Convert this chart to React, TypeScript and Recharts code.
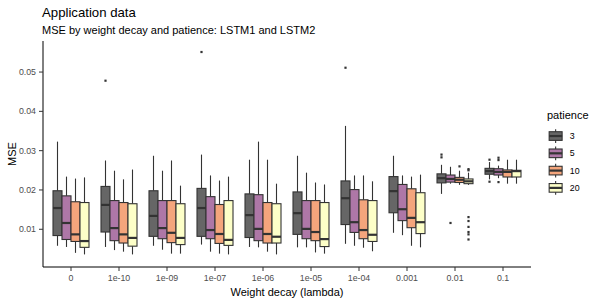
import React from "react";
import { BarChart, Bar, XAxis, YAxis } from "recharts";

const decay = ["0", "1e-10", "1e-09", "1e-07", "1e-06", "1e-05", "1e-04", "0.001", "0.01", "0.1"];
const patience = ["3", "5", "10", "20"];
const yTicks = [0.01, 0.02, 0.03, 0.04, 0.05];

// each box: [lower whisker, q1, median, q3, upper whisker]
const p3Boxes = [
  [0.0058, 0.0084, 0.0154, 0.0198, 0.0323],
  [0.0055, 0.0093, 0.0162, 0.0209, 0.0275],
  [0.0058, 0.0082, 0.0134, 0.0198, 0.0287],
  [0.0061, 0.0082, 0.0154, 0.0204, 0.029],
  [0.0055, 0.0079, 0.0136, 0.019, 0.0277],
  [0.0054, 0.0087, 0.0141, 0.0195, 0.0287],
  [0.0063, 0.0112, 0.0179, 0.0223, 0.0363],
  [0.0091, 0.0142, 0.0197, 0.0234, 0.0287],
  [0.019, 0.0218, 0.023, 0.0241, 0.0264],
  [0.0227, 0.024, 0.0248, 0.0255, 0.0271],
];
const p3Outliers = [[], [0.0478], [], [0.0551], [], [], [0.0511], [], [0.029, 0.0283], [0.0277, 0.0221]];

const p5Boxes = [
  [0.0055, 0.0074, 0.0116, 0.0185, 0.0234],
  [0.0047, 0.0071, 0.0103, 0.0173, 0.0249],
  [0.0048, 0.0076, 0.0103, 0.0173, 0.0249],
  [0.0043, 0.0076, 0.0098, 0.0183, 0.0237],
  [0.0054, 0.0071, 0.0101, 0.0188, 0.0323],
  [0.0054, 0.0076, 0.0101, 0.0173, 0.0244],
  [0.0058, 0.0092, 0.0118, 0.0201, 0.0237],
  [0.0085, 0.0122, 0.0151, 0.0214, 0.0237],
  [0.0216, 0.022, 0.0228, 0.0238, 0.0259],
  [0.023, 0.0238, 0.0246, 0.0254, 0.0262],
];
const p5Outliers = [[], [], [], [], [], [], [], [], [0.0116], [0.0282, 0.0276, 0.022]];

const p10Boxes = [
  [0.004, 0.0069, 0.0087, 0.017, 0.0229],
  [0.0043, 0.0065, 0.0087, 0.0168, 0.0227],
  [0.0038, 0.0066, 0.0091, 0.0173, 0.0275],
  [0.0038, 0.0064, 0.0088, 0.0163, 0.0224],
  [0.0043, 0.0065, 0.0088, 0.0168, 0.0277],
  [0.0041, 0.0071, 0.0093, 0.0173, 0.0219],
  [0.0053, 0.0076, 0.0098, 0.0175, 0.0237],
  [0.0058, 0.0104, 0.0129, 0.0203, 0.0234],
  [0.0213, 0.0219, 0.0226, 0.0232, 0.0249],
  [0.0216, 0.0233, 0.0246, 0.0251, 0.0277],
];
const p10Outliers = [[], [], [], [], [], [], [], [], [0.026], []];

const p20Boxes = [
  [0.0036, 0.0054, 0.007, 0.0168, 0.0232],
  [0.0036, 0.0057, 0.0078, 0.0165, 0.0252],
  [0.0038, 0.0061, 0.0078, 0.0165, 0.0211],
  [0.0036, 0.0059, 0.0073, 0.0173, 0.0234],
  [0.0036, 0.0065, 0.0081, 0.0165, 0.0216],
  [0.0038, 0.0056, 0.0075, 0.0168, 0.0214],
  [0.0044, 0.0069, 0.0086, 0.0173, 0.0222],
  [0.0054, 0.0089, 0.0118, 0.0193, 0.0239],
  [0.0213, 0.0216, 0.0222, 0.0228, 0.0244],
  [0.0216, 0.0233, 0.0248, 0.025, 0.0277],
];
const p20Outliers = [
  [], [], [], [], [], [], [], [],
  [0.0253, 0.025, 0.0131, 0.0121, 0.0106, 0.0093, 0.0087, 0.0074],
  [],
];

const series = [
  { boxes: p3Boxes, outliers: p3Outliers, fill: "#666666" },
  { boxes: p5Boxes, outliers: p5Outliers, fill: "#AE77A7" },
  { boxes: p10Boxes, outliers: p10Outliers, fill: "#F4A57C" },
  { boxes: p20Boxes, outliers: p20Outliers, fill: "#FDFFC8" },
];

const rows = decay.map((name, i) => {
  const row: Record<string, any> = { name };
  series.forEach((s, k) => {
    const b = s.boxes[i];
    const o = s.outliers[i];
    row[`box${k}`] = b;
    row[`out${k}`] = o;
    row[`range${k}`] = [Math.min(b[0], ...o), Math.max(b[4], ...o)];
  });
  return row;
});

const ink = "#333333";
const font = '"Liberation Sans", Arial, sans-serif';

function BoxShape(props: any) {
  const { x, y, width, height, payload, k, fill } = props;
  const [lo, hi] = payload[`range${k}`];
  const [w0, q1, med, q3, w1] = payload[`box${k}`];
  const outs: number[] = payload[`out${k}`];
  const top = Math.min(y, y + height);
  const bottom = Math.max(y, y + height);
  // map a value into pixels using the bar's own scaled extent
  const py = (v: number) => top + ((hi - v) / (hi - lo)) * (bottom - top);
  const cx = x + width / 2;
  return (
    <g>
      <line x1={cx} x2={cx} y1={py(w1)} y2={py(q3)} stroke={ink} strokeWidth={1.1} />
      <line x1={cx} x2={cx} y1={py(q1)} y2={py(w0)} stroke={ink} strokeWidth={1.1} />
      <rect x={x} y={py(q3)} width={width} height={py(q1) - py(q3)} fill={fill} stroke={ink} strokeWidth={1.1} />
      <line x1={x} x2={x + width} y1={py(med)} y2={py(med)} stroke={ink} strokeWidth={2.2} />
      {outs.map((v, j) => (
        <rect key={j} x={cx - 1.1} y={py(v) - 1.1} width={2.2} height={2.2} fill={ink} />
      ))}
    </g>
  );
}

function LegendKey({ top, fill, label }: { top: number; fill: string; label: string }) {
  const left = 547;
  const s = 17.28;
  const cx = left + s / 2;
  return (
    <g>
      <line x1={cx} x2={cx} y1={top + s * 0.1} y2={top + s * 0.9} stroke={ink} strokeWidth={1.1} />
      <rect x={left + s * 0.125} y={top + s * 0.25} width={s * 0.75} height={s * 0.5} fill={fill} stroke={ink} strokeWidth={1.1} />
      <line x1={left + s * 0.125} x2={left + s * 0.875} y1={top + s / 2} y2={top + s / 2} stroke={ink} strokeWidth={2.2} />
      <text x={left + s + 5.5} y={top + s / 2 + 3.1} fontSize={8.8} fill="#000">
        {label}
      </text>
    </g>
  );
}

export default function App() {
  return (
    <div style={{ position: "absolute", left: 0, top: 0, width: 600, height: 300, fontFamily: font, background: "#fff" }}>
      <BarChart
        width={600}
        height={300}
        data={rows}
        margin={{ top: 41, right: 69, bottom: 0, left: 0 }}
        barGap={0}
      >
        <XAxis
          dataKey="name"
          interval={0}
          padding={{ left: 4, right: 4 }}
          height={33}
          tickSize={4}
          tickMargin={4}
          axisLine={{ stroke: "#000", strokeWidth: 1 }}
          tickLine={{ stroke: ink }}
          tick={{ fill: "#4D4D4D", fontSize: 8.8 }}
        />
        <YAxis
          width={43}
          type="number"
          domain={[0.0004, 0.0579]}
          ticks={yTicks}
          tickFormatter={(v: number) => v.toFixed(2)}
          tickSize={4}
          tickMargin={3}
          axisLine={{ stroke: "#000", strokeWidth: 1 }}
          tickLine={{ stroke: ink }}
          tick={{ fill: "#4D4D4D", fontSize: 8.8 }}
        />
        {series.map((s, k) => (
          <Bar
            key={k}
            dataKey={`range${k}`}
            barSize={9}
            isAnimationActive={false}
            shape={(p: any) => <BoxShape {...p} k={k} fill={s.fill} />}
          />
        ))}
      </BarChart>
      <svg width={600} height={300} style={{ position: "absolute", left: 0, top: 0, pointerEvents: "none" }}>
        <text x={42} y={17} fontSize={13.2} fill="#000">Application data</text>
        <text x={42} y={34} fontSize={11} fill="#000">MSE by weight decay and patience: LSTM1 and LSTM2</text>
        <text x={16} y={154} fontSize={11} fill="#000" textAnchor="middle" transform="rotate(-90 16 154)">MSE</text>
        <text x={287} y={296} fontSize={11} fill="#000" textAnchor="middle">Weight decay (lambda)</text>
        <text x={547} y={119} fontSize={11} fill="#000">patience</text>
        {patience.map((p, k) => (
          <LegendKey key={p} top={127.4 + k * 17.28} fill={series[k].fill} label={p} />
        ))}
      </svg>
    </div>
  );
}
